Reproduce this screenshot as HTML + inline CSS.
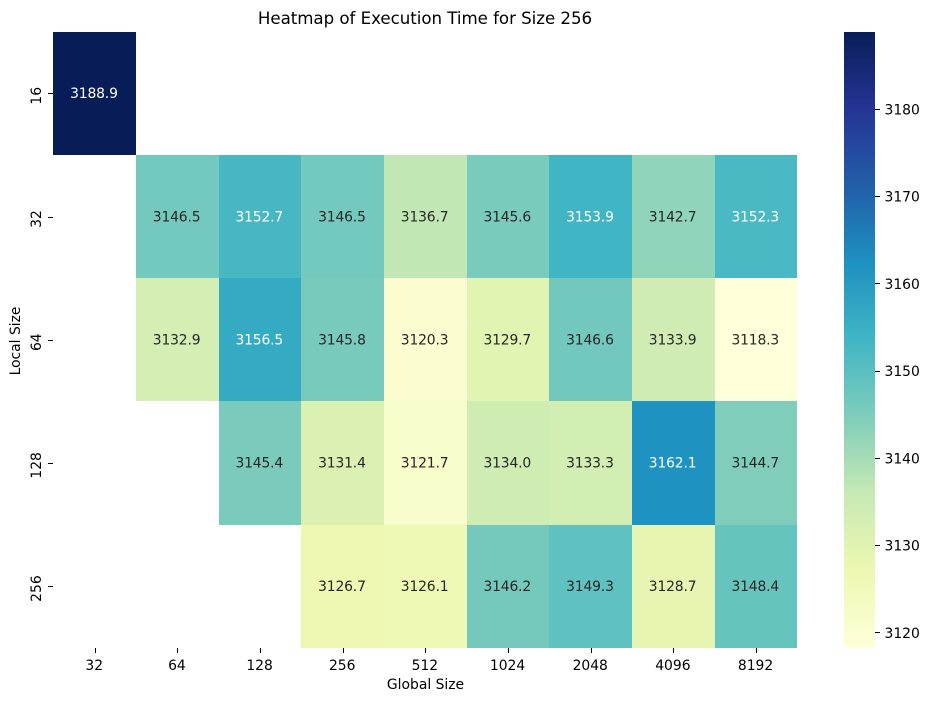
<!DOCTYPE html>
<html lang="en">
<head>
<meta charset="utf-8">
<title>Heatmap of Execution Time for Size 256</title>
<style>
html,body{margin:0;padding:0;background:#fff;width:929px;height:701px;overflow:hidden}
svg{display:block}
text{font-family:"DejaVu Sans","Liberation Sans",sans-serif;fill:#000}
</style>
</head>
<body>
<svg id="chart" xmlns="http://www.w3.org/2000/svg" width="929" height="701" viewBox="0 0 929 701">
  <defs>
    <linearGradient id="ylgnbu" x1="0" y1="1" x2="0" y2="0"></linearGradient>
  </defs>
  <text x="425" y="24" font-size="16.67" letter-spacing="-0.04" text-anchor="middle">Heatmap of Execution Time for Size 256</text>
  <text x="425.5" y="689" font-size="13.89" text-anchor="middle">Global Size</text>
  <text x="0" y="0" font-size="13.89" text-anchor="middle" transform="translate(20,341) rotate(-90)">Local Size</text>
  <g id="cells"></g>
  <g id="x-axis"></g>
  <g id="y-axis"></g>
  <rect x="844" y="32" width="31" height="616" fill="url(#ylgnbu)"></rect>
  <g id="colorbar-axis"></g>
</svg>
<script>
const globalSizes = ["32","64","128","256","512","1024","2048","4096","8192"];
const localSizes = ["16","32","64","128","256"];
const row16 = [3188.9,null,null,null,null,null,null,null,null];
const row32 = [null,3146.5,3152.7,3146.5,3136.7,3145.6,3153.9,3142.7,3152.3];
const row64 = [null,3132.9,3156.5,3145.8,3120.3,3129.7,3146.6,3133.9,3118.3];
const row128 = [null,null,3145.4,3131.4,3121.7,3134.0,3133.3,3162.1,3144.7];
const row256 = [null,null,null,3126.7,3126.1,3146.2,3149.3,3128.7,3148.4];
const executionTimes = [row16,row32,row64,row128,row256];
const colorbarTicks = [3120,3130,3140,3150,3160,3170,3180];
const paletteStops = ["#ffffd9","#edf8b1","#c7e9b4","#7fcdbb","#41b6c4","#1d91c0","#225ea8","#253494","#081d58"];

const NS = "http://www.w3.org/2000/svg";
const plot = {left:53.4, right:797.4, top:31.7, bottom:647.7};
const bar = {left:844, right:875, top:31.7, bottom:647.7};
const allValues = executionTimes.flat().filter(v => v !== null);
const vMin = Math.min(...allValues);
const vMax = Math.max(...allValues);

function xEdge(i){ return Math.round(plot.left + i*(plot.right-plot.left)/globalSizes.length); }
function yEdge(j){ return Math.round(plot.top + j*(plot.bottom-plot.top)/localSizes.length); }
function xCenter(i){ return plot.left + (i+0.5)*(plot.right-plot.left)/globalSizes.length; }
function yCenter(j){ return plot.top + (j+0.5)*(plot.bottom-plot.top)/localSizes.length; }
function barY(v){ return bar.bottom - (v-vMin)/(vMax-vMin)*(bar.bottom-bar.top); }
function hexToRgb(h){ return [1,3,5].map(k => parseInt(h.substr(k,2),16)); }
function colorRgb(v){
  const t = (v-vMin)/(vMax-vMin)*(paletteStops.length-1);
  const k = Math.min(Math.floor(t), paletteStops.length-2);
  const f = t-k;
  const a = hexToRgb(paletteStops[k]);
  const b = hexToRgb(paletteStops[k+1]);
  return a.map((c,n) => c+(b[n]-c)*f);
}
function luminance(rgb){
  const l = rgb.map(c => { c/=255; return c<=0.03928 ? c/12.92 : Math.pow((c+0.055)/1.055,2.4); });
  return 0.2126*l[0]+0.7152*l[1]+0.0722*l[2];
}
function svgEl(tag, attrs, parent){
  const el = document.createElementNS(NS, tag);
  for (const k in attrs) el.setAttribute(k, attrs[k]);
  parent.appendChild(el);
  return el;
}

const grad = document.getElementById("ylgnbu");
paletteStops.forEach((c,i) => {
  svgEl("stop", {offset:(i/(paletteStops.length-1)), "stop-color":c}, grad);
});

const cellsG = document.getElementById("cells");
executionTimes.forEach((row,j) => {
  row.forEach((v,i) => {
    if (v === null) return;
    const rgb = colorRgb(v);
    const x0 = xEdge(i), x1 = xEdge(i+1), y0 = yEdge(j), y1 = yEdge(j+1);
    const r = svgEl("rect", {x:x0, y:y0, width:x1-x0, height:y1-y0, "shape-rendering":"crispEdges",
      fill:"rgb("+rgb.map(Math.round).join(",")+")"}, cellsG);
    
    
    const t = svgEl("text", {x:xCenter(i)-0.8, y:yCenter(j)+4.8, "font-size":13.89, "letter-spacing":-0.15, "text-anchor":"middle"}, cellsG);
    
    
    t.style.fill = luminance(rgb) > 0.408 ? "#262626" : "#ffffff";
    t.textContent = v.toFixed(1);
  });
});

const xAxisG = document.getElementById("x-axis");
globalSizes.forEach((lab,i) => {
  const x = Math.round(xCenter(i));
  const tk = svgEl("line", {x1:x+0.5, x2:x+0.5, y1:648, y2:653, stroke:"#000", "stroke-width":1}, xAxisG);
  
  
  const t = svgEl("text", {x:xCenter(i)-0.5, y:670, "font-size":13.89, "text-anchor":"middle"}, xAxisG);
  
  
  t.textContent = lab;
});

const yAxisG = document.getElementById("y-axis");
localSizes.forEach((lab,j) => {
  const y = Math.round(yCenter(j));
  const tk = svgEl("line", {x1:48, x2:53, y1:y+0.5, y2:y+0.5, stroke:"#000", "stroke-width":1}, yAxisG);
  
  
  const t = svgEl("text", {x:0, y:0, "font-size":13.89, "text-anchor":"middle",
    transform:"translate(41,"+(yCenter(j)+2.5)+") rotate(-90)"}, yAxisG);
  
  
  t.textContent = lab;
});

const barAxisG = document.getElementById("colorbar-axis");
colorbarTicks.forEach(v => {
  const y = Math.floor(barY(v));
  const tk = svgEl("line", {x1:bar.right, x2:bar.right+5, y1:y+0.5, y2:y+0.5, stroke:"#000", "stroke-width":1}, barAxisG);
  
  
  const t = svgEl("text", {x:bar.right+9.5, y:barY(v)+5, "font-size":13.89}, barAxisG);
  
  
  t.textContent = String(v);
});
</script>
</body>
</html>
